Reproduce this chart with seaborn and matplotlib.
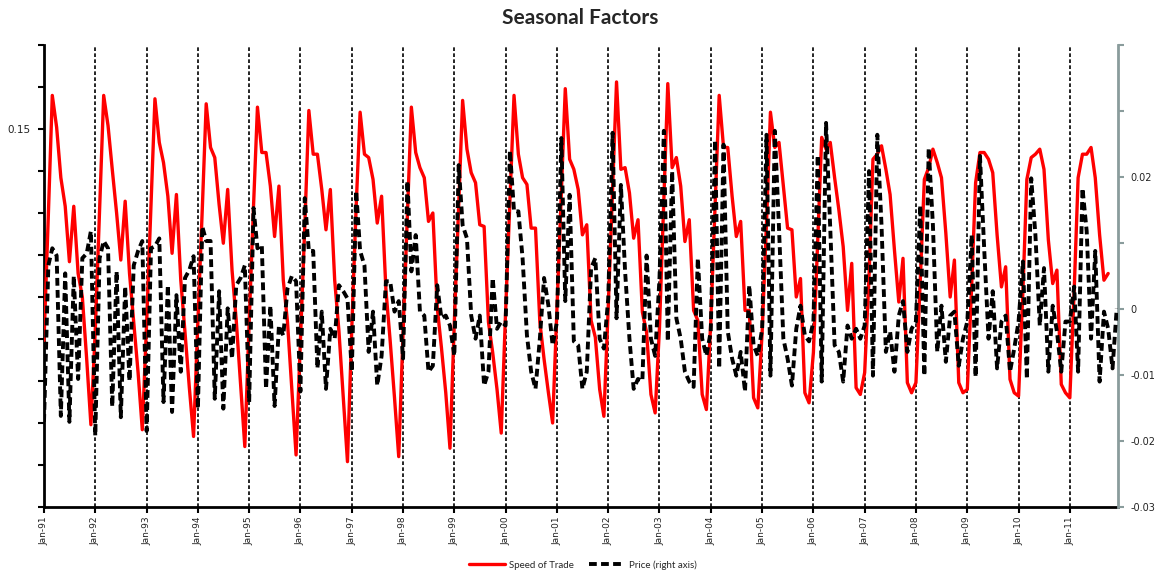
import numpy as np
import pandas as pd
import matplotlib
matplotlib.use("Agg")
import matplotlib.pyplot as plt
import matplotlib.dates as mdates
import seaborn as sns

# monthly seasonal factors, one row per year starting Jan-91
speed_of_trade = [
    0.024, 0.099, 0.170, 0.151, 0.121, 0.104, 0.071, 0.104, 0.064, 0.050, 0.013, -0.026,
    0.030, 0.102, 0.170, 0.152, 0.126, 0.100, 0.072, 0.107, 0.064, 0.035, 0.005, -0.029,
    0.035, 0.104, 0.168, 0.142, 0.130, 0.110, 0.076, 0.111, 0.060, 0.029, -0.004, -0.033,
    0.036, 0.102, 0.165, 0.139, 0.133, 0.105, 0.082, 0.114, 0.066, 0.036, -0.002, -0.039,
    0.035, 0.104, 0.163, 0.136, 0.136, 0.116, 0.086, 0.116, 0.060, 0.035, -0.005, -0.044,
    0.024, 0.092, 0.161, 0.135, 0.135, 0.114, 0.090, 0.114, 0.060, 0.030, -0.010, -0.048,
    0.032, 0.104, 0.160, 0.135, 0.133, 0.120, 0.094, 0.110, 0.054, 0.024, -0.010, -0.045,
    0.029, 0.100, 0.163, 0.136, 0.127, 0.121, 0.095, 0.100, 0.044, 0.020, -0.007, -0.040,
    0.035, 0.104, 0.167, 0.138, 0.124, 0.118, 0.093, 0.092, 0.035, 0.017, -0.005, -0.031,
    0.041, 0.108, 0.170, 0.135, 0.121, 0.117, 0.091, 0.091, 0.035, 0.013, -0.007, -0.025,
    0.044, 0.114, 0.174, 0.132, 0.126, 0.114, 0.087, 0.093, 0.036, 0.026, -0.005, -0.021,
    0.044, 0.114, 0.178, 0.126, 0.127, 0.112, 0.085, 0.096, 0.041, 0.029, -0.008, -0.019,
    0.032, 0.108, 0.177, 0.127, 0.133, 0.116, 0.083, 0.096, 0.042, 0.036, -0.008, -0.017,
    0.035, 0.104, 0.170, 0.139, 0.139, 0.110, 0.086, 0.095, 0.042, 0.042, -0.010, -0.016,
    0.029, 0.094, 0.160, 0.139, 0.142, 0.116, 0.091, 0.090, 0.050, 0.061, -0.007, -0.013,
    0.017, 0.084, 0.145, 0.138, 0.142, 0.121, 0.102, 0.080, 0.042, 0.070, -0.004, -0.008,
    0.005, 0.062, 0.132, 0.135, 0.140, 0.126, 0.111, 0.078, 0.047, 0.073, -0.001, -0.007,
    -0.001, 0.060, 0.120, 0.127, 0.138, 0.130, 0.121, 0.088, 0.050, 0.072, -0.001, -0.007,
    -0.005, 0.057, 0.118, 0.136, 0.136, 0.132, 0.124, 0.087, 0.056, 0.068, 0.001, -0.007,
    -0.009, 0.054, 0.120, 0.133, 0.135, 0.138, 0.126, 0.084, 0.058, 0.066, -0.002, -0.007,
    -0.010, 0.054, 0.121, 0.135, 0.135, 0.139, 0.121, 0.087, 0.060, 0.064,
]

price = [
    -0.0171, 0.0066, 0.0092, 0.0081, -0.0162, 0.0054, -0.0171, 0.0050, -0.0106, 0.0077, 0.0084, 0.0118,
    -0.0192, 0.0077, 0.0103, 0.0092, -0.0148, 0.0057, -0.0164, 0.0034, -0.0109, 0.0066, 0.0088, 0.0103,
    -0.0185, 0.0092, 0.0095, 0.0107, -0.0141, 0.0036, -0.0156, 0.0021, -0.0095, 0.0047, 0.0059, 0.0080,
    -0.0151, 0.0125, 0.0103, 0.0103, -0.0136, 0.0027, -0.0151, 0.0001, -0.0075, 0.0036, 0.0047, 0.0066,
    -0.0141, 0.0153, 0.0092, 0.0097, -0.0121, 0.0005, -0.0147, -0.0025, -0.0040, 0.0031, 0.0050, 0.0042,
    -0.0125, 0.0168, 0.0088, 0.0088, -0.0090, -0.0004, -0.0121, -0.0030, -0.0045, 0.0036, 0.0027, 0.0016,
    -0.0095, 0.0179, 0.0088, 0.0066, -0.0065, -0.0004, -0.0116, -0.0071, 0.0042, 0.0042, -0.0004, 0.0012,
    -0.0075, 0.0194, 0.0057, 0.0112, -0.0004, -0.0010, -0.0095, -0.0086, 0.0036, -0.0014, -0.0010, -0.0025,
    -0.0071, 0.0218, 0.0127, 0.0107, -0.0010, -0.0045, -0.0010, -0.0116, -0.0095, 0.0047, -0.0030, -0.0019,
    -0.0025, 0.0240, 0.0148, 0.0148, 0.0077, -0.0040, -0.0095, -0.0121, -0.0045, 0.0047, 0.0005, -0.0055,
    -0.0019, 0.0259, 0.0012, 0.0173, -0.0049, -0.0055, -0.0121, -0.0095, 0.0062, 0.0077, -0.0045, -0.0060,
    0.0016, 0.0267, -0.0014, 0.0188, 0.0057, -0.0045, -0.0121, -0.0106, -0.0109, 0.0081, -0.0045, -0.0071,
    0.0047, 0.0270, -0.0049, 0.0209, -0.0014, -0.0045, -0.0095, -0.0110, -0.0118, 0.0077, -0.0045, -0.0071,
    -0.0034, 0.0256, -0.0090, 0.0249, -0.0034, -0.0075, -0.0101, -0.0065, -0.0125, 0.0036, -0.0055, -0.0071,
    -0.0030, 0.0264, -0.0101, 0.0270, 0.0122, -0.0045, -0.0075, -0.0116, -0.0030, 0.0005, -0.0040, -0.0049,
    -0.0019, 0.0233, -0.0110, 0.0282, 0.0122, -0.0055, -0.0065, -0.0110, -0.0025, -0.0045, -0.0030, -0.0045,
    -0.0025, 0.0209, -0.0101, 0.0264, 0.0127, -0.0065, -0.0034, -0.0095, -0.0010, 0.0012, -0.0065, -0.0030,
    -0.0019, 0.0157, -0.0101, 0.0244, 0.0127, -0.0065, 0.0005, -0.0080, -0.0010, -0.0004, -0.0086, -0.0045,
    -0.0019, 0.0112, -0.0103, 0.0232, 0.0092, -0.0045, 0.0027, -0.0090, -0.0019, -0.0010, -0.0095, -0.0060,
    -0.0019, 0.0072, -0.0106, 0.0198, 0.0112, -0.0025, 0.0062, -0.0095, 0.0005, -0.0034, -0.0095, -0.0019,
    -0.0019, 0.0034, -0.0095, 0.0183, 0.0118, -0.0045, 0.0088, -0.0110, -0.0004, -0.0030, -0.0090, 0.0001,
]

right_tick_values = [-0.03, -0.02, -0.01, 0.0, 0.01, 0.02, 0.03, 0.04]
right_tick_labels = ["-0.03", "-0.02", "-0.01", "0", "", "0.02", "", ""]

months = pd.date_range("1991-01-01", periods=len(price), freq="MS")
year_starts = pd.date_range("1991-01-01", "2011-01-01", freq="YS")

speed_df = pd.DataFrame({"month": months[:len(speed_of_trade)], "value": speed_of_trade})
price_df = pd.DataFrame({"month": months, "value": price})

sns.set_theme(style="ticks")
plt.rcParams["font.family"] = ["DejaVu Sans"]
plt.rcParams["axes.unicode_minus"] = False

W, H = 1158, 571
fig = plt.figure(figsize=(W / 100, H / 100), dpi=100)
ax = fig.add_axes([44 / W, 1 - 507 / H, (1118 - 44) / W, (507 - 45) / H])
ax2 = ax.twinx()

sns.lineplot(data=speed_df, x="month", y="value", ax=ax, color="#ff0000",
             linewidth=2.4, legend=False, zorder=3)
sns.lineplot(data=price_df, x="month", y="value", ax=ax2, color="black",
             linewidth=2.8, linestyle=(0, (2.0, 1.1)), legend=False, zorder=3)
speed_line = ax.lines[0]
price_line = ax2.lines[0]

for d in year_starts[1:]:
    ax.axvline(d, color="black", linewidth=1.2, linestyle=(0, (2.2, 1.4)), zorder=1)

ax.set_xlim(pd.Timestamp("1991-01-01"), pd.Timestamp("2011-12-10"))
ax.set_ylim(-0.075, 0.2)
ax2.set_ylim(-0.03, 0.04)

left_ticks = np.arange(-0.075, 0.2001, 0.025)
ax.set_yticks(left_ticks)
ax.set_yticklabels(["0.15" if abs(t - 0.15) < 1e-9 else "" for t in left_ticks])
ax2.set_yticks(right_tick_values)
ax2.set_yticklabels(right_tick_labels)

ax.set_xticks(year_starts)
ax.xaxis.set_major_formatter(mdates.DateFormatter("%b-%y"))
ax.set_xlabel("")
ax.set_ylabel("")
ax2.set_ylabel("")

for side in ["top", "right"]:
    ax.spines[side].set_visible(False)
for side in ["top", "left", "bottom"]:
    ax2.spines[side].set_visible(False)
ax.spines["left"].set_linewidth(2)
ax.spines["left"].set_color("black")
ax.spines["bottom"].set_linewidth(2)
ax.spines["bottom"].set_color("black")
ax2.spines["right"].set_linewidth(2)
ax2.spines["right"].set_color("#8a9c9c")

ax.tick_params(axis="y", direction="out", length=4, width=1.5, color="black",
               labelsize=7.5, pad=6, labelcolor="#222222")
ax.tick_params(axis="x", direction="out", length=4, width=1.5, color="black",
               labelsize=6.5, pad=3, labelrotation=90, labelcolor="#222222")
ax2.tick_params(axis="y", direction="out", length=4, width=1.5, color="#8a9c9c",
                labelsize=7, pad=5, labelcolor="#222222")

fig.suptitle("Seasonal Factors", x=0.501, y=1 - 18 / H, va="center",
             fontsize=15, fontweight="bold", family=["Lato", "DejaVu Sans"])

fig.legend([speed_line, price_line], ["Speed of Trade", "Price (right axis)"],
           loc="center", bbox_to_anchor=(583 / W, 1 - 565 / H), ncol=2,
           frameon=False, prop={"family": ["Lato", "DejaVu Sans"], "size": 7},
           handlelength=3.7, handletextpad=0.4, columnspacing=1.6)

fig.savefig("out.png", dpi=100)
